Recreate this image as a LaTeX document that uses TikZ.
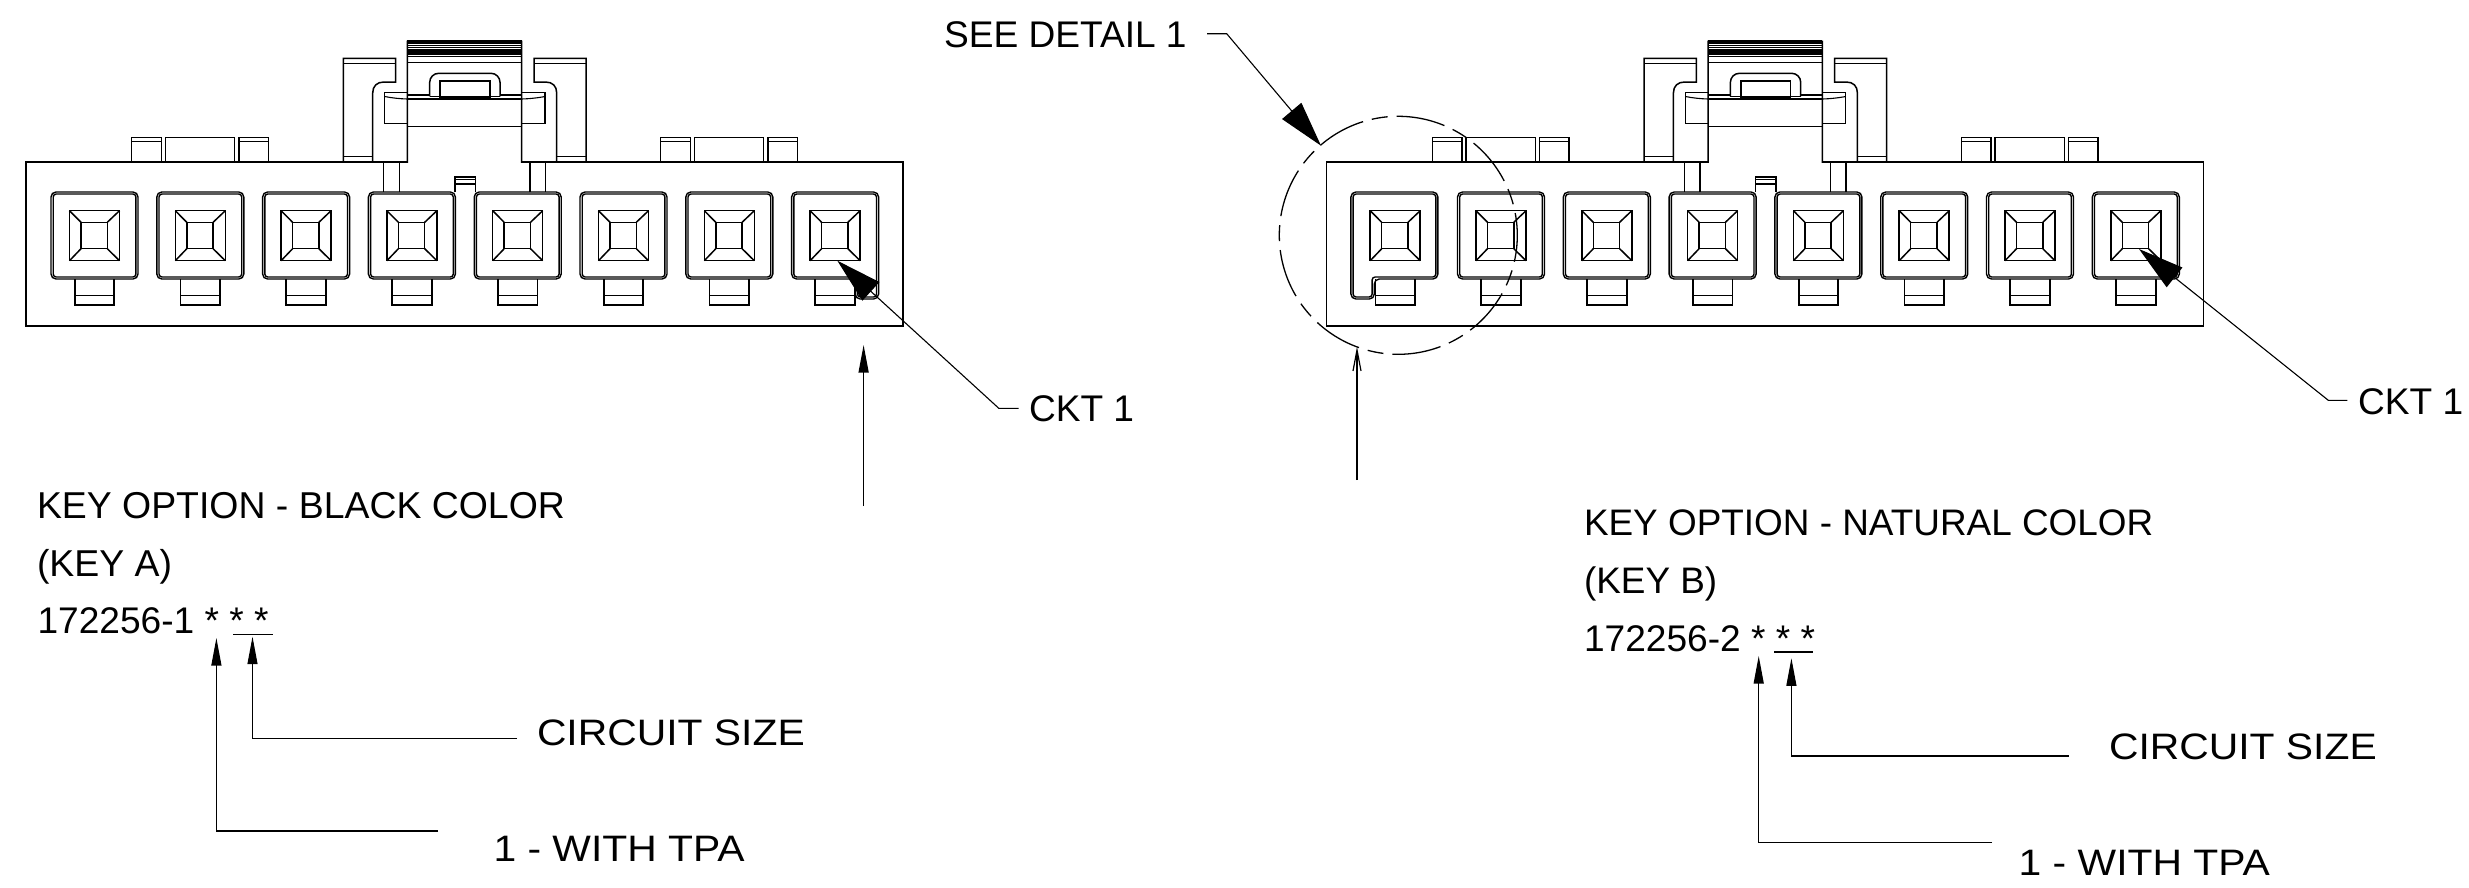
\documentclass[tikz,border=0pt]{standalone}
\usepackage{fontspec}
\setmainfont{Liberation Sans}
\newfontfamily\widefont[FakeStretch=1.11]{Liberation Sans}
\usetikzlibrary{arrows.meta}
\newcommand{\labfont}{\fontsize{37.1}{40}\selectfont}
\newcommand{\keyfont}{\fontsize{37.4}{40}\selectfont}
\newcommand{\keybfont}{\fontsize{36.9}{40}\selectfont}
\newcommand{\widelab}{\widefont\fontsize{36.8}{40}\selectfont}
\tikzset{
  part/.style={draw=black,line width=1.5pt,line join=miter},
  thinpart/.style={draw=black,line width=1.1pt},
  wall/.style={draw=black,line width=1.4pt},
  lead/.style={draw=black,line width=1.1pt},
  txt/.style={inner sep=0pt,outer sep=0pt,anchor=base west,text=black},
  bighead/.style={-{Triangle[length=45.5pt,width=25pt]}},
  smallhead/.style={-{Triangle[length=27.5pt,width=10pt]}},
  openhead/.style={-{Straight Barb[length=21pt,width=8pt,line width=1.2pt]}},
  pics/socket/.style={code={
    \draw[part] (18.5,18.7) rectangle (68.5,68.7);
    \draw[part] (30,30.3) rectangle (56.3,56.7);
    \draw[part] (18.5,18.7)--(30,30.3) (68.5,18.7)--(56.3,30.3)
                (18.5,68.7)--(30,56.7) (68.5,68.7)--(56.3,56.7);
    \draw[part,line width=1.8pt] (23.7,87)--(23.7,113.3)--(63.3,113.3)--(63.3,87);
    \draw[thinpart,line width=1.4pt] (23.7,103.7)--(63.3,103.7);
  }},
  pics/plainwall/.style={code={
    \draw[wall,rounded corners=5pt] (0,0) rectangle (87,87);
    \draw[wall,rounded corners=3pt] (2.2,2) rectangle (84.9,85);
  }},
  pics/keyright/.style={code={
    \draw[wall,rounded corners=5pt] (0,0)--(87,0)--(87,107)--(63.6,107)--(63.6,87)--(0,87)--cycle;
    \draw[wall,rounded corners=3pt] (2.2,2)--(84.9,2)--(84.9,105)--(65.8,105)--(65.8,85)--(2.2,85)--cycle;
  }},
  pics/keyleft/.style={code={
    \draw[wall,rounded corners=5pt] (0,0)--(87,0)--(87,87)--(23.4,87)--(23.4,107)--(0,107)--cycle;
    \draw[wall,rounded corners=3pt] (2.2,2)--(84.9,2)--(84.9,85)--(21.2,85)--(21.2,105)--(2.2,105)--cycle;
  }},
  pics/bumps/.style={code={
    \draw[part] (131.7,162)--(131.7,137.7)--(161.3,137.7)--(161.3,162);
    \draw[thinpart] (131.7,141.7)--(161.3,141.7);
    \draw[part] (165.3,162)--(165.3,137.7)--(234.7,137.7)--(234.7,162);
    \draw[part] (239,162)--(239,137.7)--(268.3,137.7)--(268.3,162);
    \draw[thinpart] (239,141.7)--(268.3,141.7);
  }},
  pics/housing/.style={code={
    % body
    \draw[part] (407.3,162)--(26,162)--(26,326)--(903,326)--(903,162)--(521.7,162);
    \pic at (0,0) {bumps};
    \pic at (529,0) {bumps};
    % left flag and arm
    \draw[part] (372.7,162)--(343.3,162)--(343.3,58.3)--(395.7,58.3)--(395.7,82)--(384,82)
       .. controls (377,82) and (372.7,86) .. (372.7,93)--(372.7,162)--(407.3,162)--(407.3,40.7);
    \draw[thinpart] (343.3,63.3)--(395.7,63.3) (343.3,156.7)--(372.7,156.7);
    % right flag and arm
    \draw[part] (556.7,162)--(586,162)--(586,58.3)--(534,58.3)--(534,82)--(545.5,82)
       .. controls (552.5,82) and (556.7,86) .. (556.7,93)--(556.7,162)--(521.7,162)--(521.7,40.7);
    \draw[thinpart] (586,63.3)--(534,63.3) (586,156.7)--(556.7,156.7);
    % ribbed top
    \foreach \ry in {41,43.2,...,57.8} {\draw[draw=black,line width=1.7pt] (407.3,\ry)--(521.7,\ry);}
    \draw[thinpart] (407.3,62.7)--(521.7,62.7);
    % handle
    \draw[part,rounded corners=9pt] (429.7,96.3)--(429.7,73.3)--(500,73.3)--(500,96.3);
    \draw[part] (429.7,96.3)--(440.3,96.3) (489.7,96.3)--(500,96.3);
    \draw[part,line width=1.8pt] (440.3,97.3)--(440.3,80.7)--(489.7,80.7)--(489.7,97.3)--cycle;
    % cross bar
    \draw[part] (407.3,95)--(429.7,95) (500,95)--(521.7,95);
    \draw[part] (407.3,99)--(521.7,99);
    \draw[part] (407.3,126.3)--(521.7,126.3);
    % flanges
    \draw[part] (407.3,92.3)--(384.7,92.3)--(384.7,123.3)--(407.3,123.3);
    \draw[part] (521.7,92.3)--(545,92.3)--(545,123.3)--(521.7,123.3);
    \draw[thinpart] (384.7,96.5) .. controls (392,98) and (400,98.8) .. (407.3,99);
    \draw[thinpart] (545,96.5) .. controls (537,98) and (529,98.8) .. (521.7,99);
    % posts
    \draw[part] (383.7,162)--(383.7,192) (399.3,162)--(399.3,192);
    \draw[part] (530,162)--(530,192) (545.3,162)--(545.3,192);
    % centre pin
    \draw[part] (455,192)--(455,177)--(475.3,177)--(475.3,192);
    \draw[part] (455,184)--(475.3,184);
    \draw[thinpart] (455,179.5)--(475.3,179.5);
    \foreach \nn in {0,...,7} {\pic at ({51+105.8*\nn},192) {socket};}
  }},
}
\begin{document}
\begin{tikzpicture}[x=1pt,y=-1pt]
\useasboundingbox (0,0) rectangle (2469,887);
% left connector
\pic at (0,0) {housing};
\foreach \nn in {0,...,6} {\pic at ({51+105.8*\nn},192) {plainwall};}
\pic at (791.6,192) {keyright};
% right connector
\pic at (1300.7,0) {housing};
\pic at (1350.9,192) {keyleft};
\foreach \nn in {1,...,7} {\pic at ({1351.7+105.8*\nn},192) {plainwall};}
% detail circle
\draw[draw=black,line width=1.3pt,dash pattern=on 49pt off 9pt on 16pt off 9.1pt]
  plot[domain=229.2:589.2,samples=361] ({1398.3+119*cos(\x)},{235.3+119*sin(\x)});
% labels
\node[txt] (seedetail) at (944,47.7) {\labfont SEE DETAIL 1};
\node[txt] (ckta) at (1029,421) {\labfont CKT 1};
\node[txt] (cktb) at (2358,414.3) {\labfont CKT 1};
\node[txt] (keya) at (37,518) {\keyfont KEY OPTION - BLACK COLOR};
\node[txt] (keyaa) at (37,576) {\keyfont (KEY A)};
\node[txt] (pna) at (37.5,633) {\labfont 172256-1 * * *};
\node[txt] (sizea) at (537,745.7) {\widelab CIRCUIT SIZE};
\node[txt] (tpaa) at (493.5,861.7) {\widelab 1 - WITH TPA};
\node[txt] (keyb) at (1584,535.7) {\keybfont KEY OPTION - NATURAL COLOR};
\node[txt] (keybb) at (1584,593.3) {\keybfont (KEY B)};
\node[txt] (pnb) at (1584,651.7) {\labfont 172256-2 * * *};
\node[txt] (sizeb) at (2109,759.3) {\widelab CIRCUIT SIZE};
\node[txt] (tpab) at (2018.7,875) {\widelab 1 - WITH TPA};
% named connector points
\coordinate (sda) at (1207,33.7);
\coordinate (sdb) at (1226.7,33.7);
\coordinate (sdtip) at (1321,145.7);
\coordinate (caa) at (1018.6,408.3);
\coordinate (cab) at (998.8,408.3);
\coordinate (catip) at (837.3,260.7);
\coordinate (cba) at (2347.3,400.3);
\coordinate (cbb) at (2328.3,400.3);
\coordinate (cbtip) at (2139,249);
\coordinate (vaa) at (863.6,506);
\coordinate (vab) at (863.6,345);
\coordinate (vba) at (1357,480);
\coordinate (vbb) at (1357,346.7);
\coordinate (ula) at (233,634.7);
\coordinate (ulb) at (273,634.7);
\coordinate (ta1) at (438,831);
\coordinate (ta2) at (216.4,831);
\coordinate (ta3) at (216.4,638);
\coordinate (sa1) at (517,738.3);
\coordinate (sa2) at (252.5,738.3);
\coordinate (sa3) at (252.5,636.7);
\coordinate (ulc) at (1774,652);
\coordinate (uld) at (1812.8,652);
\coordinate (tb1) at (1992,842.7);
\coordinate (tb2) at (1758.7,842.7);
\coordinate (tb3) at (1758.7,656);
\coordinate (sb1) at (2068.8,756);
\coordinate (sb2) at (1791.4,756);
\coordinate (sb3) at (1791.4,658.3);
% connectors
\draw[lead,bighead] (sda)--(sdb)--(sdtip);
\draw[lead,bighead] (caa)--(cab)--(catip);
\draw[lead,bighead] (cba)--(cbb)--(cbtip);
\draw[lead,line width=1.3pt,smallhead] (vaa)--(vab);
\draw[lead,line width=1.3pt,openhead] (vba)--(vbb);
\draw[lead,line width=1.3pt] (ula)--(ulb);
\draw[lead,smallhead] (ta1)--(ta2)--(ta3);
\draw[lead,smallhead] (sa1)--(sa2)--(sa3);
\draw[lead,line width=1.3pt] (ulc)--(uld);
\draw[lead,smallhead] (tb1)--(tb2)--(tb3);
\draw[lead,smallhead] (sb1)--(sb2)--(sb3);
\end{tikzpicture}
\end{document}
